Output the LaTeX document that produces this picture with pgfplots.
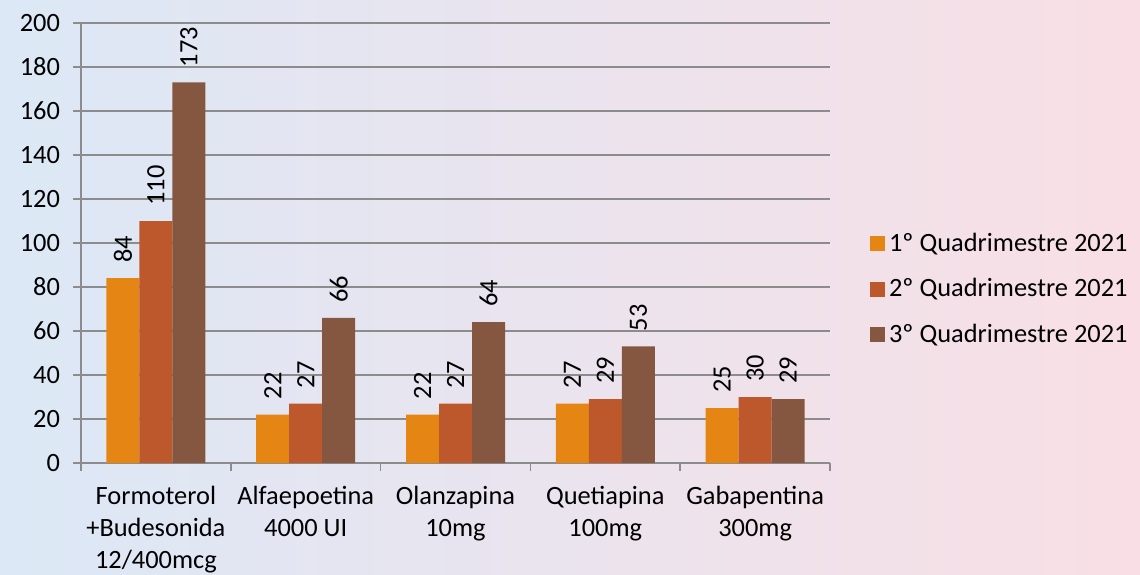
\documentclass[border=0pt]{standalone}
\usepackage{fontspec}
\setmainfont{Carlito}
\usepackage{pgfplots}
\pgfplotsset{compat=1.18}
\definecolor{c1}{HTML}{E58513}
\definecolor{c2}{HTML}{BD582C}
\definecolor{c3}{HTML}{855640}
\definecolor{gridc}{HTML}{8C8C8C}
\definecolor{bgl}{HTML}{DCE8F6}
\definecolor{bgm}{HTML}{F8E8E2}
\definecolor{bgr}{HTML}{F9DFE5}
\begin{document}
\begin{tikzpicture}
\shade[left color=bgl, middle color=bgm, right color=bgr] (0,0) rectangle (570pt,287pt);
\useasboundingbox (0,0) rectangle (570pt,287pt);
\begin{axis}[
  at={(40.5pt,55.5pt)}, anchor=south west,
  scale only axis, width=374.5pt, height=220pt,
  /pgf/number format/assume math mode=true,
  ybar=0pt, bar width=16.5pt,
  xmin=-0.5, xmax=4.5, ymin=0, ymax=200,
  ytick={0,20,...,200},
  xtick={0,1,2,3,4},
  xticklabels={Formoterol\\+Budesonida\\12/400mcg, Alfaepoetina\\4000 UI, Olanzapina\\10mg, Quetiapina\\100mg, Gabapentina\\300mg},
  minor xtick={-0.5,0.5,...,4.5},
  major x tick style={draw=none},
  minor x tick style={gridc, line width=0.75pt},
  y tick style={gridc, line width=0.75pt},
  tick align=outside, major tick length=4pt, minor tick length=4pt,
  axis x line*=bottom, axis y line*=left,
  axis line style={-, gridc, line width=0.75pt},
  ymajorgrids, grid style={gridc, line width=0.75pt},
  clip=false,
  ticklabel style={font=\fontsize{13.2}{16}\selectfont, text=black},
  xticklabel style={align=center, yshift=-4pt},
  yticklabel style={xshift=-3pt},
  nodes near coords,
  every node near coord/.append style={rotate=90, anchor=west, text=black, inner xsep=7.5pt, font=\fontsize{13.2}{15}\selectfont},
  legend style={at={(1.045,0.395)}, anchor=west, draw=none, fill=none, row sep=8pt, font=\fontsize{13.2}{15}\selectfont},
  legend cell align=left,
  legend image code/.code={\fill[#1,draw=none] (0pt,-3.7pt) rectangle (7.5pt,3.7pt);},
]
\addplot[fill=c1, draw=none] coordinates {(0,84) (1,22) (2,22) (3,27) (4,25)};
\addplot[fill=c2, draw=none] coordinates {(0,110) (1,27) (2,27) (3,29) (4,30)};
\addplot[fill=c3, draw=none] coordinates {(0,173) (1,66) (2,64) (3,53) (4,29)};
\legend{1º Quadrimestre 2021, 2º Quadrimestre 2021, 3º Quadrimestre 2021}
\end{axis}
\end{tikzpicture}
\end{document}
